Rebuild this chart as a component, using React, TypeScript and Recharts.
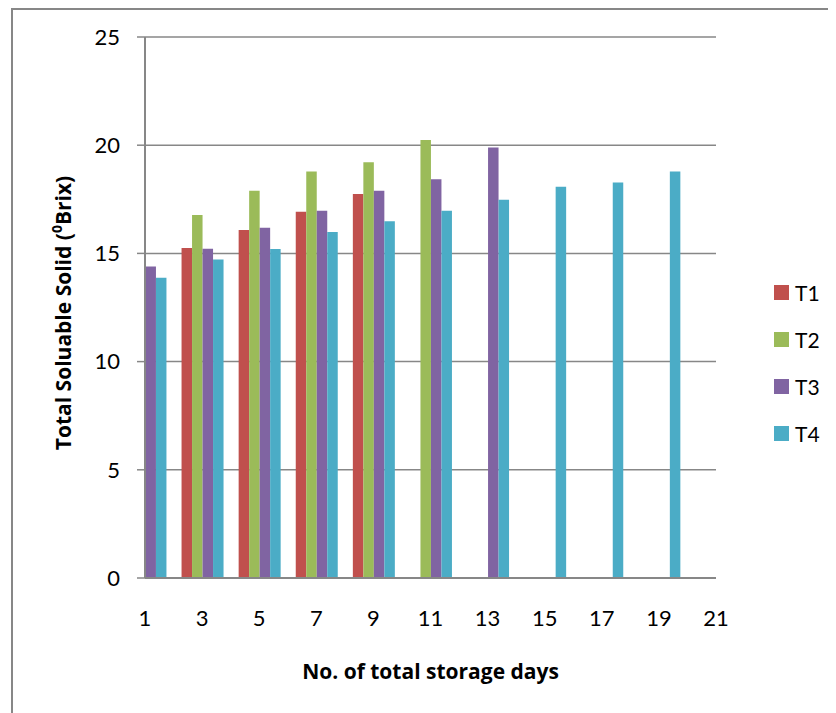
import React from 'react';
import { BarChart, Bar, XAxis, YAxis, CartesianGrid } from 'recharts';

const days = [1, 3, 5, 7, 9, 11, 13, 15, 17, 19];
const t1 = [null, 15.25, 16.08, 16.92, 17.74, null, null, null, null, null];
const t2 = [null, 16.78, 17.89, 18.78, 19.21, 20.24, null, null, null, null];
const t3 = [14.39, 15.22, 16.19, 16.97, 17.89, 18.43, 19.89, null, null, null];
const t4 = [13.88, 14.72, 15.2, 15.99, 16.49, 16.97, 17.48, 18.08, 18.28, 18.78];
const xTicks = [1, 3, 5, 7, 9, 11, 13, 15, 17, 19, 21];
const yTicks = [0, 5, 10, 15, 20, 25];

const series = [
  { key: 'T1', color: '#C0504D' },
  { key: 'T2', color: '#9BBB59' },
  { key: 'T3', color: '#8064A2' },
  { key: 'T4', color: '#4BACC6' },
];

const data = days.map((d, i) => ({ day: d, T1: t1[i], T2: t2[i], T3: t3[i], T4: t4[i] }));

const FONT = 'Lato, "Open Sans", sans-serif';
const TITLE_FONT = '"Open Sans", Lato, sans-serif';
const GRID = '#878787';

const YTitle = ({ viewBox }: any) => {
  const cx = viewBox.x + 50;
  const cy = 303;
  return (
    <text
      x={cx}
      y={cy}
      transform={`rotate(-90 ${cx} ${cy})`}
      textAnchor="middle"
      dominantBaseline="central"
      fontFamily={TITLE_FONT}
      fontWeight="bold"
      fontSize={21}
      fill="#000"
    >
      Total Soluable Solid (<tspan fontSize={14} dy={-7}>0</tspan>
      <tspan dy={7}>Brix)</tspan>
    </text>
  );
};

const XTitle = ({ viewBox }: any) => (
  <text
    x={viewBox.x + viewBox.width / 2}
    y={661}
    textAnchor="middle"
    dominantBaseline="central"
    fontFamily={TITLE_FONT}
    fontWeight="bold"
    fontSize={21}
    fill="#000"
  >
    No. of total storage days
  </text>
);

export default function App() {
  return (
    <div style={{ marginLeft: 3, width: 823, height: 703, borderTop: `2px solid ${GRID}`, borderLeft: `2px solid ${GRID}`, position: 'relative' }}>
      <style>{'body{overflow:hidden}'}</style>
      <BarChart
        width={820}
        height={700}
        data={data}
        margin={{ top: 27, right: 117, left: 0, bottom: 0 }}
        barGap={0}
        barSize={10.5}
      >
        <CartesianGrid vertical={false} stroke={GRID} strokeWidth={1.5} />
        <XAxis
          dataKey="day"
          type="number"
          domain={[1, 21]}
          ticks={xTicks}
          interval={0}
          height={132}
          tickLine={false}
          tickSize={0}
          tickMargin={32}
          axisLine={{ stroke: GRID, strokeWidth: 2 }}
          tick={{ fill: '#000', fontSize: 22, fontFamily: FONT }}
          label={{ content: <XTitle /> }}
        />
        <YAxis
          domain={[0, 25]}
          ticks={yTicks}
          interval={0}
          width={132}
          tickSize={8}
          tickMargin={17}
          tickLine={{ stroke: GRID, strokeWidth: 1.5 }}
          axisLine={{ stroke: GRID, strokeWidth: 2 }}
          tick={{ fill: '#000', fontSize: 22, fontFamily: FONT }}
          label={{ content: <YTitle /> }}
        />
        {series.map((s) => (
          <Bar key={s.key} dataKey={s.key} fill={s.color} isAnimationActive={false} />
        ))}
      </BarChart>
      <div style={{ position: 'absolute', left: 761, top: 259, fontFamily: FONT, fontSize: 21 }}>
        {series.map((s) => (
          <div key={s.key} style={{ display: 'flex', alignItems: 'center', height: 47 }}>
            <span style={{ width: 15, height: 15, background: s.color, display: 'inline-block', marginRight: 6 }} />
            <span>{s.key}</span>
          </div>
        ))}
      </div>
    </div>
  );
}
